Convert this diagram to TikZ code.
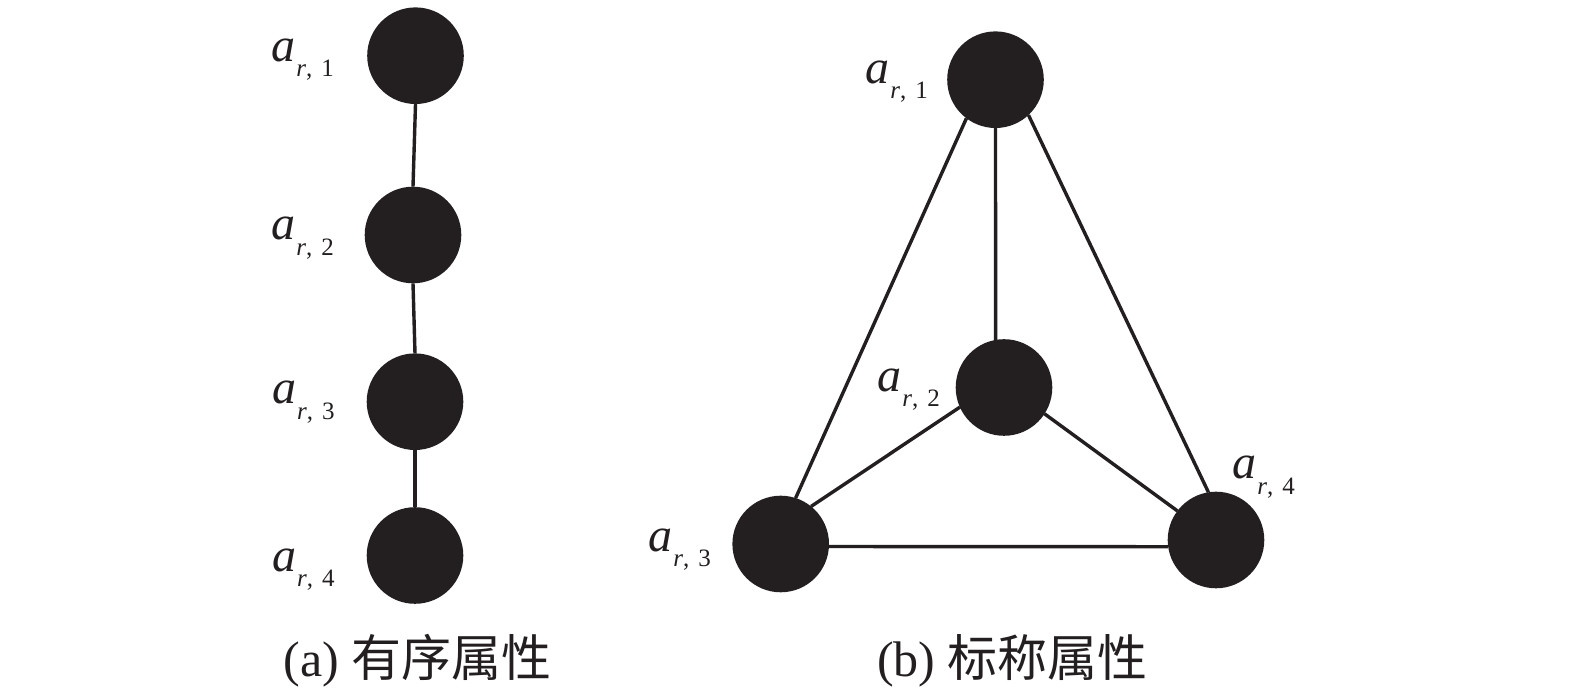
\documentclass[tikz,border=0pt]{standalone}
\usepackage{fontspec}
\setmainfont{Liberation Serif}
\newfontfamily\cjk{Noto Sans CJK SC}
\usetikzlibrary{backgrounds}
\definecolor{dotcol}{HTML}{231F20}
\newcommand{\albl}[1]{{\fontsize{24}{24}\selectfont\itshape a}\kern0.5pt\raisebox{-7.6pt}{\fontsize{12.5}{12.5}\selectfont\itshape r\upshape,\kern4.5pt #1}}
\begin{document}
\begin{tikzpicture}[x=0.5pt,y=-0.5pt,
  dot/.style={circle,fill=dotcol,inner sep=0pt,outer sep=0pt,minimum size=48.3pt},
  edge/.style={line width=1.7pt,draw=dotcol},
  lbl/.style={anchor=base west,inner sep=0pt,text=dotcol},
  captext/.style={anchor=base,inner sep=0pt,text=dotcol,font=\fontsize{25}{25}\selectfont}]
\useasboundingbox (0,0) rectangle (1575,699);
% left: ordered
\node[dot] (A1) at (415.5,55.7) {};
\node[dot] (A2) at (413,235) {};
\node[dot] (A3) at (415,401.7) {};
\node[dot] (A4) at (415,555.5) {};
\node[lbl] (LA1) at (271,61.7) {\albl{1}};
\node[lbl] (LA2) at (271,240) {\albl{2}};
\node[lbl] (LA3) at (271.7,404) {\albl{3}};
\node[lbl] (LA4) at (271.7,571.7) {\albl{4}};
% right: nominal
\node[dot] (B1) at (995.5,79.7) {};
\node[dot] (B2) at (1004,387.5) {};
\node[dot] (B3) at (780.7,544) {};
\node[dot] (B4) at (1216,540) {};
\node[lbl] (LB1) at (865,83.3) {\albl{1}};
\node[lbl] (LB2) at (877,391.7) {\albl{2}};
\node[lbl] (LB3) at (648,551.7) {\albl{3}};
\node[lbl] (LB4) at (1232,479) {\albl{4}};
\begin{scope}[on background layer]
\fill[white] (0,0) rectangle (1575,699);
\draw[edge] (A1.south) -- (A2.north);
\draw[edge] (A2.south) -- (A3.north);
\draw[edge] (A3.south) -- (A4.north);
\draw[edge] (B1.-90) -- (B2.100);
\draw[edge] (B1.233.3) -- (B3.72.2);
\draw[edge] (B1.-47) -- (B4.99.5);
\draw[edge] (B2.204.7) -- (B3.51.4);
\draw[edge] (B2.-33.8) -- (B4.143.2);
\draw[edge] (B3.-3.6) -- (B4.188.4);
\end{scope}
% captions
\node[captext] (CA) at (417.5,677) {(a) {\cjk 有序属性}};
\node[captext] (CB) at (1012.5,677) {(b) {\cjk 标称属性}};
\end{tikzpicture}
\end{document}
